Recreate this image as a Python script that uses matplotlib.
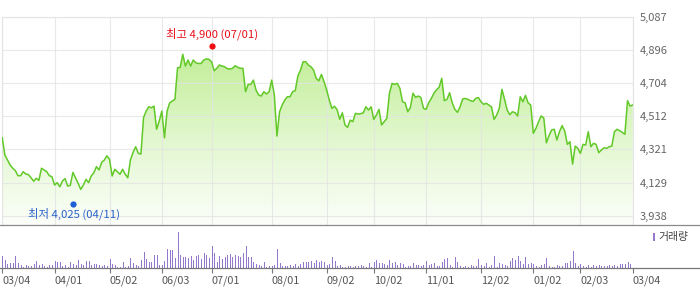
import numpy as np
import matplotlib
matplotlib.use("Agg")
import matplotlib.pyplot as plt
from matplotlib.lines import Line2D
from matplotlib.patches import Rectangle
from matplotlib.transforms import offset_copy
from matplotlib.colors import LinearSegmentedColormap

plt.rcParams["font.family"] = ["Noto Sans CJK KR", "DejaVu Sans"]

# daily close, one year of trading days
close = [
    4388, 4288, 4259, 4231, 4212, 4199, 4169, 4169, 4192, 4179,
    4175, 4157, 4137, 4154, 4142, 4212, 4202, 4192, 4169, 4163,
    4115, 4129, 4105, 4138, 4152, 4109, 4113, 4188, 4157, 4125,
    4090, 4115, 4148, 4129, 4167, 4186, 4221, 4202, 4246, 4259,
    4284, 4263,
    4167, 4206, 4192, 4177, 4206, 4177, 4157, 4260, 4304, 4336,
    4298, 4294, 4504, 4542, 4567, 4561, 4571, 4437, 4485, 4542,
    4388, 4542, 4590, 4600, 4610, 4792, 4794, 4870, 4802, 4837,
    4802, 4837, 4821, 4817, 4817, 4837, 4843, 4841, 4827, 4775,
    4789, 4808, 4802, 4798, 4787, 4785, 4789, 4804, 4795, 4789,
    4789, 4654, 4696, 4696, 4721, 4664, 4635, 4629, 4654, 4641,
    4654, 4721, 4635, 4398, 4538, 4577, 4606, 4625, 4625, 4654,
    4660, 4745, 4779, 4827, 4827, 4808, 4798, 4779, 4731, 4717,
    4754, 4712, 4664, 4606, 4558, 4570, 4550, 4495, 4532, 4462,
    4448, 4490, 4481, 4529, 4525, 4527, 4532, 4567, 4548, 4567,
    4494, 4519, 4552, 4462, 4481, 4500, 4645, 4702, 4696, 4702,
    4673, 4596, 4590, 4538, 4563, 4645, 4621, 4629, 4621, 4558,
    4552, 4590, 4615, 4645, 4665, 4680, 4731, 4602, 4610, 4648,
    4590, 4552, 4535, 4567, 4612, 4615, 4610, 4602, 4598, 4616,
    4620, 4596, 4581, 4587, 4577, 4567, 4494, 4519, 4558, 4668,
    4610, 4548, 4521, 4538, 4533, 4514, 4625, 4596, 4633, 4590,
    4577, 4414, 4442, 4481, 4514, 4502, 4359, 4400, 4433, 4437,
    4375, 4423, 4458, 4427, 4350, 4365, 4236, 4340, 4327, 4298,
    4350, 4346, 4423, 4336, 4356, 4350, 4302, 4317, 4330, 4327,
    4336, 4340, 4423, 4437, 4429, 4419, 4408, 4602, 4571, 4577,
]

# volume, relative units
volume = [
    36, 24, 12, 15, 15, 36, 15, 9, 5, 9,
    7, 7, 12, 21, 9, 12, 6, 3, 9, 9,
    21, 18, 18, 7, 9, 3, 18, 12, 9, 24,
    12, 9, 21, 21, 9, 12, 12, 9, 6, 9,
    6, 27, 12, 9, 3, 3, 18, 3, 6, 30,
    15, 9, 6, 24, 48, 27, 18, 18, 39, 39,
    9, 9, 21, 57, 54, 54, 30, 108, 39, 33,
    33, 30, 36, 24, 36, 39, 27, 45, 39, 30,
    66, 45, 18, 36, 27, 33, 39, 42, 33, 39,
    36, 33, 45, 66, 33, 33, 18, 12, 9, 6,
    18, 3, 6, 6, 9, 57, 15, 6, 6, 6,
    9, 6, 12, 6, 12, 18, 18, 18, 21, 15,
    24, 18,
    21, 18, 9, 12, 33, 21, 6, 9, 3, 3,
    6, 6, 3, 6, 6, 9, 6, 3, 15, 3,
    18, 24, 15, 15, 12, 9, 24, 15, 18, 9,
    15, 12, 3, 6, 6, 15, 9, 9, 6, 9,
    21, 9, 12, 15, 6, 6, 18, 27, 30, 9,
    3, 33, 18, 6, 3, 6, 3, 9, 6, 6,
    27, 9, 6, 15, 3, 9, 36, 3, 15, 12,
    9, 6, 21, 30, 24, 36, 21, 12, 33, 12,
    15, 12, 6, 3, 9, 12, 30, 6, 3, 3,
    9, 6, 6, 15, 15, 21, 51, 15, 6, 12,
    6, 3, 9, 3, 9, 6, 9, 6, 6, 6,
    9, 6, 9, 6, 12, 12, 12, 18, 12, 9,
]

tick_idx = [0, 20, 41, 61, 80, 103, 124, 142, 162, 183, 203, 221, 241]
tick_labels = ["03/04", "04/01", "05/02", "06/03", "07/01", "08/01", "09/02",
               "10/02", "11/01", "12/02", "01/02", "02/03", "03/04"]
y_ticks = [3938, 4129, 4321, 4512, 4704, 4896, 5087]

high_idx, high_val, high_label = 80, 4900, "최고 4,900 (07/01)"
low_idx, low_val, low_label = 27, 4025, "최저 4,025 (04/11)"

W, H = 700, 289
fig = plt.figure(figsize=(W / 100, H / 100), dpi=100)
ax = fig.add_axes([2 / W, 63.7 / H, 631 / W, 208.6 / H])
vax = fig.add_axes([2 / W, 20.7 / H, 631 / W, 43 / H])

x = np.arange(len(close))
ymin, ymax = 3882.6, 5087
xlim = (-0.1, 241.1)

# gradient fill under the line
poly = ax.fill_between(x, close, ymin, color="none", lw=0)
grad = np.linspace(0, 1, 256).reshape(-1, 1)
cmap = LinearSegmentedColormap.from_list("g", ["#fcfefa", "#e2f7cf", "#c2ee98"])
im = ax.imshow(grad, extent=[x[0], x[-1], ymin, max(close)], origin="lower",
               aspect="auto", cmap=cmap, zorder=1, interpolation="bilinear")
im.set_clip_path(poly.get_paths()[0], transform=ax.transData)

ax.plot(x, close, color="#62c928", lw=1.1, zorder=3)

ax.set_xlim(*xlim)
ax.set_ylim(ymin, ymax)
ax.set_xticks(tick_idx)
ax.set_yticks(y_ticks)
ax.set_xticklabels([])
ax.set_yticklabels([f"{v:,}" for v in y_ticks])
ax.yaxis.tick_right()
ax.tick_params(axis="x", length=0)
ax.tick_params(axis="y", length=0, pad=5, labelsize=8, labelcolor="#666666")
ax.grid(True, color="#e4e4e4", lw=0.8, alpha=0.8, zorder=2)
for s in ["left", "right", "top"]:
    ax.spines[s].set_color("#e4e4e4")
    ax.spines[s].set_linewidth(0.8)
ax.spines["bottom"].set_visible(False)

# high / low markers
up = offset_copy(ax.transData, fig=fig, x=0, y=3.5, units="dots")
down = offset_copy(ax.transData, fig=fig, x=0, y=-3, units="dots")
ax.plot([high_idx], [high_val], "o", color="#f01010", ms=4.5, mec="none",
        transform=up, zorder=4, clip_on=False)
ax.plot([low_idx], [low_val], "o", color="#1f5fd6", ms=4.5, mec="none",
        transform=down, zorder=4, clip_on=False)
ax.annotate(high_label, (high_idx, high_val), xytext=(1, 15),
            textcoords="offset pixels", ha="center", va="center",
            fontsize=8.2, color="#e8101a")
ax.annotate(low_label, (low_idx, low_val), xytext=(1, -13),
            textcoords="offset pixels", ha="center", va="center",
            fontsize=8.2, color="#2a62c8")

# volume panel
vax.vlines(x, 0, volume, colors="#9478cc", lw=0.5, antialiased=False)
vax.set_xlim(*xlim)
vax.set_ylim(0, 129)
vax.set_yticks([])
vax.set_xticks(tick_idx)
vax.set_xticklabels(tick_labels)
for lbl in vax.get_xticklabels():
    lbl.set_ha("left")
vax.tick_params(axis="x", length=3.5, width=0.8, color="#777777", pad=2,
                labelsize=7.8, labelcolor="#555555")
for s in vax.spines.values():
    s.set_visible(False)

# full-width separator and baseline
fig.add_artist(Line2D([0, 1], [1 - 225.3 / H] * 2, color="#8a8a8a", lw=0.9))
fig.add_artist(Line2D([0, 1], [1 - 268.3 / H] * 2, color="#777777", lw=0.9))

# volume legend
fig.add_artist(Rectangle((653 / W, 1 - 241 / H), 2.2 / W, 8 / H,
                         transform=fig.transFigure, color="#9478cc", lw=0))
fig.text(658 / W, 1 - 237 / H, "거래량", fontsize=7.8, color="#444444",
         ha="left", va="center")

fig.savefig("out.png", dpi=100)
